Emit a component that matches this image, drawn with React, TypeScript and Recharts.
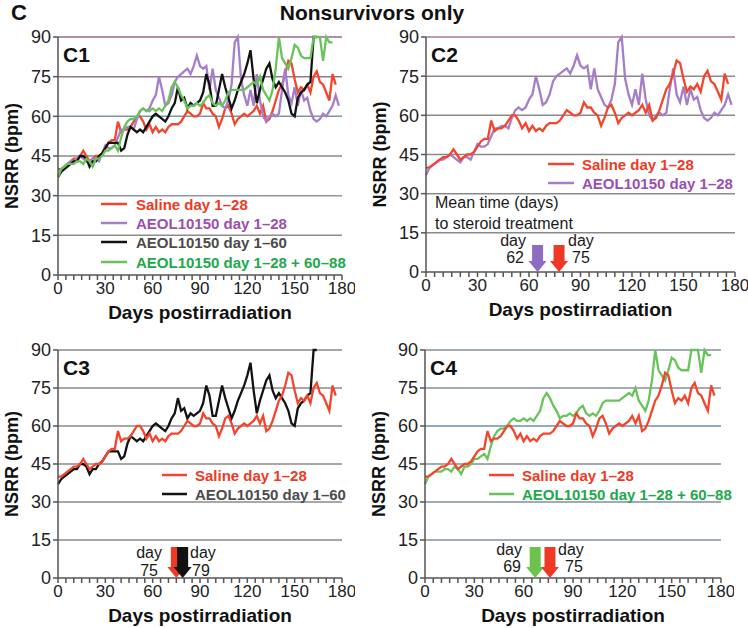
import React from "react";
import { LineChart, Line, XAxis, YAxis, ReferenceLine, ReferenceDot } from "recharts";

// day grid (every 2nd day postirradiation)
const days = [
  0, 2, 4, 6, 8, 10, 12, 14, 16, 18, 20, 22, 24, 26, 28, 30, 32, 34, 36, 38,
  40, 42, 44, 46, 48, 50, 52, 54, 56, 58, 60, 62, 64, 66, 68, 70, 72, 74, 76, 78,
  80, 82, 84, 86, 88, 90, 92, 94, 96, 98, 100, 102, 104, 106, 108, 110, 112, 114, 116, 118,
  120, 122, 124, 126, 128, 130, 132, 134, 136, 138, 140, 142, 144, 146, 148, 150, 152, 154, 156, 158,
  160, 162, 164, 166, 168, 170, 172, 174, 176, 178,
];

const saline = [
  40, 40, 41, 42, 43, 44, 44, 45, 47, 45, 43, 44, 45, 45, 46, 48, 50, 51, 51, 58,
  54, 55, 55, 56, 58, 60, 60, 58, 55, 57, 54, 56, 54, 55, 54, 56, 57, 57, 57, 58,
  60, 62, 61, 60, 60, 61, 65, 63, 63, 61, 60, 56, 59, 63, 64, 61, 57, 59, 60, 61,
  60, 61, 62, 64, 61, 64, 58, 59, 62, 66, 70, 72, 76, 81, 80, 74, 69, 71, 70, 72,
  69, 75, 77, 73, 72, 69, 66, 76, 72, null,
];

const aeol28 = [
  37, 40, 41, 42, 43, 43, 44, 45, 44, 43, 42, 44, 44, 43, 46, 49, 48, 48, 49, 52,
  55, 55, 56, 56, 55, 59, 62, 63, 62, 63, 66, 68, 75, 70, 64, 65, 68, 73, 75, 76,
  77, 78, 76, 79, 83, 79, 78, 79, 70, 78, 70, 67, 64, 63, 66, 72, 88, 90, 74, 68,
  64, 70, 64, 76, 66, 60, 58, 60, 61, 60, 61, 70, 78, 68, 65, 71, 64, 70, 66, 67,
  62, 59, 58, 59, 61, 60, 62, 64, 68, 64,
];

const aeol60 = [
  37, 39, 40, 41, 42, 43, 43, 45, 45, 44, 41, 43, 43, 45, 46, 48, 50, 50, 50, 50,
  47, 48, 53, 56, 55, 54, 55, 54, 56, 58, 60, 61, 60, 59, 58, 60, 63, 65, 71, 66,
  67, 63, 65, 64, 65, 66, 69, 76, 72, 64, 64, 70, 76, 71, 67, 63, 66, 70, 73, 76,
  80, 85, 74, 65, 70, 74, 78, 80, 74, 71, 73, 71, 69, 66, 61, 60, 67, 69, 70, 72,
  73, 90, 90, null, null, null, null, null, null, null,
];

const boost = [
  37, 40, 41, 42, 42, 42, 43, 43, 42, 44, 43, 41, 44, 44, 45, 47, 47, 48, 49, 47,
  52, 56, 58, 59, 59, 60, 62, 63, 62, 62, 63, 62, 63, 62, 64, 66, 71, 73, 71, 68,
  66, 63, 64, 64, 65, 64, 65, 67, 68, 65, 64, 65, 64, 66, 69, 70, 70, 70, 70, 70,
  71, 72, 73, 72, 75, 70, 68, 66, 70, 78, 90, 82, 80, 78, 82, 87, 86, 83, 82, 82,
  82, 90, 90, 90, 81, 90, 88, 88, null, null,
];

const xTicks = [0, 5, 10, 15, 20, 25, 30, 35, 40, 45, 50, 55, 60, 65, 70, 75, 80, 85, 90, 95, 100, 105, 110, 115, 120, 125, 130, 135, 140, 145, 150, 155, 160, 165, 170, 175, 180];
const yTicks = [0, 15, 30, 45, 60, 75, 90];
const gridValues = [15, 30, 45, 60, 75, 90];

const table = days.map((d, i) => ({
  day: d,
  saline: saline[i],
  aeol28: aeol28[i],
  aeol60: aeol60[i],
  boost: boost[i],
}));

const SERIES: Record<string, { name: string; line: string; text: string }> = {
  saline: { name: "Saline day 1\u201328", line: "#f2452d", text: "#ee3a24" },
  aeol28: { name: "AEOL10150 day 1\u201328", line: "#a57ec9", text: "#9a4fae" },
  aeol60: { name: "AEOL10150 day 1\u201360", line: "#121212", text: "#4b4b4b" },
  boost: { name: "AEOL10150 day 1\u201328 + 60\u201388", line: "#69c35b", text: "#22a84c" },
};

const FONT = "'Liberation Sans', Arial, Helvetica, sans-serif";

const arrowShape = (color: string, len: number) => (props: any) => {
  const { cx, cy } = props;
  const head = 11;
  return (
    <g>
      <rect x={cx - 5.5} y={cy - len} width={11} height={len - head + 1} fill={color} />
      <polygon points={`${cx - 9},${cy - head} ${cx + 9},${cy - head} ${cx},${cy}`} fill={color} />
    </g>
  );
};

type PanelDef = {
  id: string;
  px: number;
  py: number;
  pw: number;
  ph: number;
  order: string[];
  grid: string[];
  arrows: { day: number; color: string; len: number }[];
};

const panels: PanelDef[] = [
  {
    id: "C1", px: 58, py: 37, pw: 284, ph: 238,
    order: ["saline", "aeol28", "aeol60", "boost"],
    grid: ["#8c8c8c", "#8e98a4", "#8a8a8a", "#7898a4", "#98768c", "#94688a"],
    arrows: [],
  },
  {
    id: "C2", px: 426, py: 37, pw: 309, ph: 235,
    order: ["aeol28", "saline"],
    grid: ["#8a8a8a", "#8a8a8a", "#8a8a8a", "#8a8a8a", "#8a8a8a", "#a07a9c"],
    arrows: [
      { day: 65, color: "#8f6cc4", len: 27 },
      { day: 77.5, color: "#ee3a24", len: 27 },
    ],
  },
  {
    id: "C3", px: 58, py: 350, pw: 284, ph: 228,
    order: ["aeol60", "saline"],
    grid: ["#8a8a8a", "#8a8a8a", "#8a8a8a", "#8a8a8a", "#8a8a8a", "#8a8a8a"],
    arrows: [
      { day: 75, color: "#ee3a24", len: 31 },
      { day: 79, color: "#111111", len: 31 },
    ],
  },
  {
    id: "C4", px: 425, py: 350, pw: 296, ph: 228,
    order: ["boost", "saline"],
    grid: ["#84909c", "#7f909e", "#84909c", "#6f8faa", "#84909c", "#84909c"],
    arrows: [
      { day: 67, color: "#6cc24a", len: 31 },
      { day: 76, color: "#ee3a24", len: 31 },
    ],
  },
];

function Panel({ p }: { p: PanelDef }) {
  const yAxisW = 60;
  const xAxisH = 32;
  const top = 10;
  const right = 13;
  const width = p.pw + yAxisW + right;
  const height = p.ph + top + xAxisH;
  return (
    <div style={{ position: "absolute", left: p.px - yAxisW, top: p.py - top }}>
      <LineChart width={width} height={height} data={table} margin={{ top, right, left: 0, bottom: 0 }}>
        <XAxis
          type="number"
          dataKey="day"
          domain={[0, 180]}
          ticks={xTicks}
          interval={0}
          tickFormatter={(v: number) => (v % 30 === 0 ? String(v) : "")}
          tickSize={5}
          tickMargin={2}
          height={xAxisH}
          stroke="#555"
          strokeWidth={1.5}
          tick={{ fill: "#222", fontSize: 17 }}
        />
        <YAxis
          type="number"
          domain={[0, 90]}
          ticks={yTicks}
          interval={0}
          tickSize={5}
          tickMargin={2}
          width={yAxisW}
          stroke="#555"
          strokeWidth={1.5}
          tick={{ fill: "#222", fontSize: 18 }}
        />
        {gridValues.map((v, i) => (
          <ReferenceLine key={v} y={v} stroke={p.grid[i]} strokeWidth={1.5} />
        ))}
        {p.order.map((k) => (
          <Line
            key={k}
            type="linear"
            dataKey={k}
            name={SERIES[k].name}
            stroke={SERIES[k].line}
            strokeWidth={2.3}
            dot={false}
            isAnimationActive={false}
          />
        ))}
        {p.arrows.map((a, i) => (
          <ReferenceDot key={i} x={a.day} y={0} r={0} shape={arrowShape(a.color, a.len)} ifOverflow="visible" />
        ))}
      </LineChart>
    </div>
  );
}

type LegendDef = { x1: number; x2: number; tx: number; rows: number[]; keys: string[] };

const legends: LegendDef[] = [
  { x1: 101, x2: 127, tx: 136, rows: [204, 223, 242, 262], keys: ["saline", "aeol28", "aeol60", "boost"] },
  { x1: 548, x2: 574, tx: 582, rows: [164, 183], keys: ["saline", "aeol28"] },
  { x1: 162, x2: 187, tx: 195, rows: [475, 494], keys: ["saline", "aeol60"] },
  { x1: 489, x2: 514, tx: 522, rows: [475, 494], keys: ["saline", "boost"] },
];

const dayNotes = [
  { x: 526, y: 246, t: "day", a: "end" },
  { x: 524, y: 263, t: "62", a: "end" },
  { x: 568, y: 246, t: "day", a: "start" },
  { x: 572, y: 263, t: "75", a: "start" },
  { x: 162, y: 558, t: "day", a: "end" },
  { x: 158, y: 576, t: "75", a: "end" },
  { x: 190, y: 558, t: "day", a: "start" },
  { x: 192, y: 576, t: "79", a: "start" },
  { x: 522, y: 555, t: "day", a: "end" },
  { x: 521, y: 572, t: "69", a: "end" },
  { x: 558, y: 555, t: "day", a: "start" },
  { x: 565, y: 572, t: "75", a: "start" },
];

export default function App() {
  return (
    <div
      style={{
        position: "absolute",
        left: 0,
        top: 0,
        width: 748,
        height: 628,
        background: "#fff",
        fontFamily: FONT,
        overflow: "hidden",
      }}
    >
      {panels.map((p) => (
        <Panel key={p.id} p={p} />
      ))}
      <svg width={748} height={628} style={{ position: "absolute", left: 0, top: 0, pointerEvents: "none" }} fontFamily={FONT}>
        <text x={11} y={20} fontSize={22} fontWeight="bold" fill="#111">C</text>
        <text x={372} y={20} fontSize={21} fontWeight="bold" fill="#111" textAnchor="middle">Nonsurvivors only</text>

        {panels.map((p) => (
          <g key={p.id}>
            <text x={p.px + 5} y={p.py + 25} fontSize={21} fontWeight="bold" fill="#111">{p.id}</text>
            <text
              x={0}
              y={0}
              transform={`translate(${p.px - 40}, ${p.py + p.ph / 2}) rotate(-90)`}
              fontSize={18}
              fontWeight="bold"
              fill="#111"
              textAnchor="middle"
            >
              NSRR (bpm)
            </text>
            <text x={p.px + p.pw / 2} y={p.py + p.ph + 44} fontSize={19} fontWeight="bold" fill="#111" textAnchor="middle">
              Days postirradiation
            </text>
          </g>
        ))}

        {legends.map((l, li) => (
          <g key={li}>
            {l.keys.map((k, i) => (
              <g key={k}>
                <line x1={l.x1} x2={l.x2} y1={l.rows[i]} y2={l.rows[i]} stroke={SERIES[k].line} strokeWidth={2.5} />
                <text x={l.tx} y={l.rows[i] + 5.5} fontSize={15} fontWeight="bold" fill={SERIES[k].text}>
                  {SERIES[k].name}
                </text>
              </g>
            ))}
          </g>
        ))}

        <text x={435} y={208} fontSize={16} fill="#1a1a1a">Mean time (days)</text>
        <text x={435} y={229} fontSize={16} fill="#1a1a1a">to steroid treatment</text>
        {dayNotes.map((n, i) => (
          <text key={i} x={n.x} y={n.y} fontSize={16} fill="#1a1a1a" textAnchor={n.a as any}>
            {n.t}
          </text>
        ))}
      </svg>
    </div>
  );
}
